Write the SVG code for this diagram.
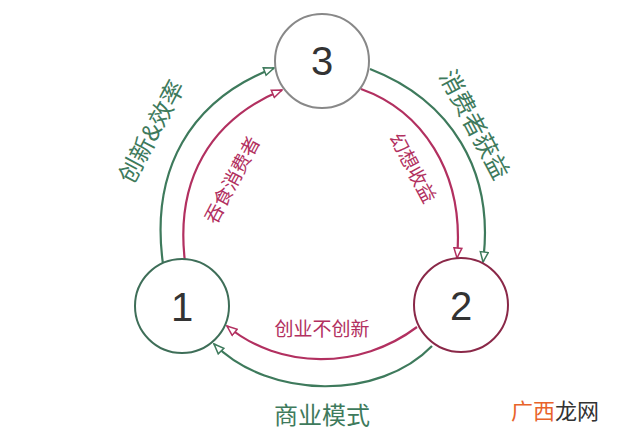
<svg xmlns="http://www.w3.org/2000/svg" width="640" height="440" viewBox="0 0 640 440">
<style>
.n{fill:#fff;stroke-width:2}
.num{font-family:"Liberation Sans",sans-serif;font-size:40px;fill:#333;text-anchor:middle}
.g{fill:none;stroke:#3e7a5c;stroke-width:2.2}
.r{fill:none;stroke:#b23060;stroke-width:2.2}
.tg{font-family:"Noto Sans CJK SC",sans-serif;fill:#3e7a5c;text-anchor:middle}
.tr{font-family:"Noto Sans CJK SC",sans-serif;fill:#b23060;text-anchor:middle}
</style>
<defs>
<marker id="ag" viewBox="0 0 12 10" refX="11" refY="5" markerWidth="12" markerHeight="10" markerUnits="userSpaceOnUse" orient="auto"><path d="M1,1 L11,5 L1,9 Z" fill="#fff" stroke="#3e7a5c" stroke-width="1.5"/></marker>
<marker id="ar" viewBox="0 0 12 10" refX="11" refY="5" markerWidth="12" markerHeight="10" markerUnits="userSpaceOnUse" orient="auto"><path d="M1,1 L11,5 L1,9 Z" fill="#fff" stroke="#b23060" stroke-width="1.5"/></marker>
</defs>
<rect width="640" height="440" fill="#fff"/>
<g id="connectors">
<path class="g" d="M163,264 C150,170 190,100 274,68" marker-end="url(#ag)"/>
<path class="r" d="M185,262 C175,180 210,120 282,90" marker-end="url(#ar)"/>
<path class="g" d="M370,69 C450,100 495,170 483,262" marker-end="url(#ag)"/>
<path class="r" d="M361,89 C420,110 465,170 457,258" marker-end="url(#ar)"/>
<path class="r" d="M417,327 C360,370 280,370 227,326" marker-end="url(#ar)"/>
<path class="g" d="M432,346 C380,400 270,400 214,344" marker-end="url(#ag)"/>
</g>
<g id="node3"><circle class="n" cx="322" cy="61" r="47" stroke="#888"/><text class="num" x="322" y="75">3</text></g>
<g id="node1"><circle class="n" cx="182" cy="306" r="47" stroke="#3e6e58"/><text class="num" x="182" y="321">1</text></g>
<g id="node2"><circle class="n" cx="461" cy="305" r="47" stroke="#8a2848"/><text class="num" x="461" y="320">2</text></g>
<g id="labels">
<text class="tg" font-size="24" transform="translate(152,132) rotate(-62)" y="8">创新&amp;效率</text>
<text class="tr" font-size="19" transform="translate(232,180) rotate(-62)" y="7">吞食消费者</text>
<text class="tr" font-size="19" transform="translate(413,168) rotate(62)" y="7">幻想收益</text>
<text class="tg" font-size="24" transform="translate(474,125) rotate(62)" y="8">消费者获益</text>
<text class="tr" font-size="19" x="322" y="336">创业不创新</text>
<text class="tg" font-size="24" x="322" y="424">商业模式</text>
<text font-family="Noto Sans CJK SC,sans-serif" font-size="22" x="511" y="419"><tspan fill="#e8632a">广西</tspan><tspan fill="#333">龙网</tspan></text>
</g>
</svg>
